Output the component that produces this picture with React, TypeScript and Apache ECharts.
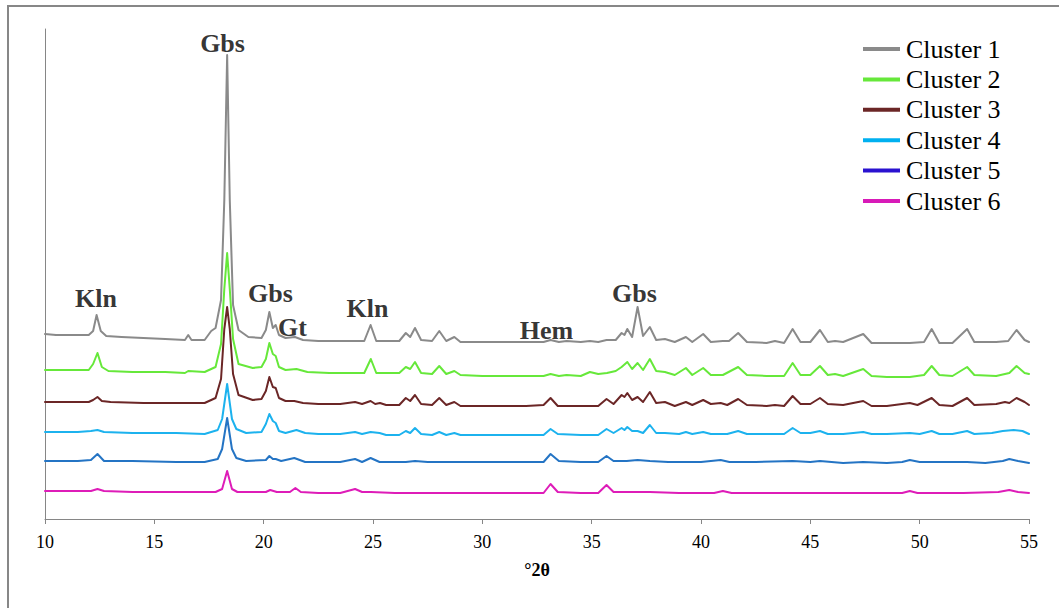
import React, { useEffect, useRef } from "react";
import * as echarts from "echarts";

// XRD patterns (x = °2θ, y = offset intensity, arbitrary units)
const CLUSTER_1: [number, number][] = [
  [10.0, 185], [10.5, 184], [11.0, 184], [11.5, 184], [12.0, 184], [12.2, 188], [12.36, 204], [12.55, 188], [12.8, 183],
  [13.5, 182], [14.5, 181], [15.5, 180], [16.4, 179], [16.55, 184], [16.7, 179], [17.3, 179], [17.6, 188], [17.8, 191],
  [18.05, 219], [18.2, 319], [18.33, 464], [18.45, 319], [18.6, 214], [18.85, 189], [19.3, 182], [19.9, 181], [20.1, 189],
  [20.26, 207], [20.42, 191], [20.55, 194], [20.7, 184], [21.0, 181], [21.43, 182], [21.8, 179], [22.5, 178], [23.5, 178],
  [24.6, 178], [24.89, 194], [25.15, 178], [25.5, 178], [26.2, 178], [26.5, 186], [26.7, 182], [26.92, 191], [27.2, 179],
  [27.7, 178], [28.03, 188], [28.35, 178], [28.72, 182], [29.0, 177], [30.0, 177], [31.0, 177], [32.0, 177], [32.8, 177],
  [33.12, 179], [33.5, 177], [33.85, 178], [34.5, 177], [34.92, 178], [35.3, 177], [35.68, 179], [36.1, 179], [36.37, 186],
  [36.5, 184], [36.63, 190], [36.85, 182], [37.1, 212], [37.35, 183], [37.66, 192], [37.95, 179], [38.35, 180], [38.8, 177],
  [39.31, 182], [39.6, 177], [40.1, 185], [40.45, 177], [41.0, 178], [41.28, 178], [41.7, 186], [42.1, 177], [43.0, 176],
  [43.38, 178], [43.8, 176], [44.19, 190], [44.55, 177], [45.0, 177], [45.44, 189], [45.8, 177], [46.13, 178], [46.5, 177],
  [47.42, 185], [47.8, 176], [48.5, 176], [49.55, 176], [50.2, 177], [50.55, 190], [50.9, 176], [51.5, 176], [52.17, 190],
  [52.5, 177], [53.5, 177], [54.05, 178], [54.43, 189], [54.8, 179], [55.0, 177],
];

const CLUSTER_2: [number, number][] = [
  [10.0, 149], [11.0, 149], [12.0, 149], [12.2, 155], [12.4, 166], [12.6, 152], [12.9, 148], [14.0, 147], [15.5, 147],
  [16.4, 146], [16.55, 148], [17.3, 147], [17.8, 152], [18.05, 175], [18.2, 230], [18.33, 266], [18.45, 230], [18.6, 180],
  [18.85, 155], [19.5, 151], [19.9, 152], [20.1, 160], [20.26, 176], [20.42, 165], [20.55, 163], [20.7, 152], [21.0, 149],
  [21.5, 150], [22.0, 147], [23.0, 146], [24.6, 146], [24.9, 160], [25.15, 146], [26.2, 146], [26.5, 152], [26.7, 150],
  [26.92, 157], [27.2, 146], [27.7, 145], [28.03, 153], [28.35, 145], [28.72, 148], [29.0, 144], [30.0, 143], [31.0, 143],
  [32.0, 143], [32.8, 143], [33.12, 145], [33.5, 143], [33.85, 144], [34.5, 143], [34.92, 147], [35.3, 145], [35.7, 146],
  [36.1, 148], [36.37, 152], [36.63, 157], [36.85, 150], [37.1, 156], [37.35, 149], [37.66, 160], [37.95, 148], [38.35, 147],
  [38.8, 144], [39.31, 151], [39.6, 144], [40.1, 151], [40.45, 144], [41.0, 144], [41.7, 152], [42.1, 144], [43.0, 143],
  [43.8, 143], [44.19, 156], [44.55, 144], [45.0, 144], [45.44, 153], [45.8, 144], [46.13, 145], [46.5, 143], [47.42, 150],
  [47.8, 143], [48.5, 142], [49.55, 142], [50.2, 144], [50.55, 153], [50.9, 144], [51.5, 143], [52.17, 152], [52.5, 144],
  [53.5, 143], [54.1, 146], [54.43, 153], [54.8, 146], [55.0, 145],
];

const CLUSTER_3: [number, number][] = [
  [10.0, 117], [11.0, 117], [12.0, 117], [12.2, 119], [12.4, 122], [12.6, 118], [13.0, 117], [14.5, 116], [16.0, 116],
  [17.3, 116], [17.8, 121], [18.05, 140], [18.2, 190], [18.33, 212], [18.45, 190], [18.6, 145], [18.85, 124], [19.5, 119],
  [19.9, 120], [20.1, 128], [20.26, 142], [20.42, 132], [20.55, 131], [20.7, 121], [21.0, 118], [21.4, 118], [21.8, 116],
  [22.5, 115], [23.5, 115], [24.18, 117], [24.5, 115], [24.89, 118], [25.1, 115], [25.32, 116], [25.6, 114], [26.2, 114],
  [26.5, 121], [26.7, 118], [26.92, 124], [27.2, 115], [27.7, 114], [28.03, 121], [28.35, 114], [28.72, 117], [29.0, 113],
  [30.0, 113], [31.0, 113], [32.0, 113], [32.8, 114], [33.12, 121], [33.45, 113], [34.0, 113], [34.9, 113], [35.3, 113],
  [35.68, 120], [36.0, 115], [36.37, 124], [36.5, 122], [36.63, 126], [36.85, 119], [37.1, 122], [37.35, 117], [37.66, 127],
  [37.95, 116], [38.35, 117], [38.8, 113], [39.31, 117], [39.6, 114], [40.1, 119], [40.45, 115], [40.9, 116], [41.2, 114],
  [41.7, 120], [42.1, 114], [43.0, 113], [43.38, 114], [43.8, 113], [44.19, 123], [44.55, 115], [45.0, 115], [45.44, 121],
  [45.8, 115], [46.5, 114], [47.42, 118], [47.8, 113], [48.5, 113], [49.55, 116], [49.9, 114], [50.55, 121], [50.9, 114],
  [51.5, 113], [52.17, 121], [52.5, 114], [53.5, 115], [53.9, 117], [54.1, 116], [54.43, 121], [54.8, 117], [55.0, 114],
];

const CLUSTER_4: [number, number][] = [
  [10.0, 87], [11.5, 87], [12.1, 88], [12.4, 89], [12.7, 87], [14.0, 86], [16.0, 86], [17.3, 85], [17.9, 89], [18.1, 100],
  [18.33, 135], [18.55, 100], [18.75, 90], [19.2, 86], [19.9, 87], [20.1, 95], [20.26, 105], [20.42, 98], [20.55, 96],
  [20.7, 88], [21.0, 86], [21.5, 89], [21.9, 86], [22.5, 85], [23.5, 85], [24.18, 87], [24.5, 85], [24.89, 87], [25.3, 86],
  [25.6, 84], [26.2, 84], [26.5, 88], [26.7, 86], [26.92, 91], [27.2, 85], [27.7, 84], [28.03, 87], [28.35, 84], [28.72, 86],
  [29.0, 84], [30.0, 84], [31.0, 84], [32.0, 84], [32.8, 84], [33.12, 90], [33.45, 85], [34.5, 84], [35.3, 84], [35.68, 90],
  [36.0, 86], [36.37, 91], [36.5, 89], [36.63, 92], [36.85, 88], [37.1, 88], [37.35, 86], [37.66, 94], [37.95, 86],
  [38.35, 86], [39.0, 85], [39.31, 87], [39.6, 85], [40.1, 87], [40.45, 85], [41.2, 85], [41.7, 88], [42.1, 85], [43.0, 85],
  [43.8, 85], [44.19, 91], [44.55, 86], [45.0, 86], [45.44, 88], [45.8, 85], [46.5, 85], [47.42, 87], [47.8, 85], [48.5, 85],
  [49.55, 86], [50.0, 85], [50.55, 88], [50.9, 85], [51.5, 85], [52.17, 88], [52.5, 85], [53.3, 86], [53.8, 88], [54.3, 89],
  [54.7, 88], [55.0, 85],
];

const CLUSTER_5: [number, number][] = [
  [10.0, 58], [11.5, 58], [12.1, 59], [12.4, 65], [12.7, 58], [14.0, 58], [16.0, 57], [17.3, 57], [17.9, 60], [18.1, 70],
  [18.33, 101], [18.55, 70], [18.75, 61], [19.2, 58], [20.1, 59], [20.26, 63], [20.42, 60], [20.55, 60], [20.8, 58],
  [21.4, 61], [21.9, 57], [22.5, 57], [23.5, 57], [24.18, 60], [24.5, 57], [24.89, 61], [25.3, 57], [26.5, 57], [26.92, 58],
  [27.5, 57], [28.03, 57], [29.0, 57], [30.0, 57], [31.0, 57], [32.0, 57], [32.8, 57], [33.12, 65], [33.5, 58], [34.5, 57],
  [35.3, 57], [35.68, 63], [36.0, 58], [36.6, 58], [37.1, 59], [37.66, 58], [38.5, 57], [39.31, 57], [40.0, 57], [40.9, 59],
  [41.3, 57], [41.7, 57], [42.5, 57], [44.19, 58], [45.0, 57], [45.44, 58], [46.5, 56], [47.42, 57], [48.5, 56], [49.2, 57],
  [49.55, 59], [50.0, 57], [50.55, 57], [52.17, 57], [53.0, 56], [53.8, 58], [54.1, 60], [54.5, 58], [55.0, 56],
];

const CLUSTER_6: [number, number][] = [
  [10.0, 28], [11.5, 28], [12.1, 28], [12.4, 30], [12.7, 28], [14.0, 27], [16.0, 27], [17.8, 27], [18.1, 30], [18.33, 48],
  [18.55, 30], [18.8, 27], [20.1, 27], [20.3, 29], [20.6, 27], [21.2, 27], [21.45, 31], [21.7, 27], [22.5, 26], [23.5, 26],
  [24.18, 30], [24.5, 27], [24.9, 27], [26.0, 26], [28.0, 26], [30.0, 26], [32.0, 26], [32.8, 26], [33.12, 35], [33.45, 27],
  [34.5, 26], [35.3, 26], [35.68, 34], [36.0, 27], [37.1, 27], [37.66, 27], [39.0, 26], [40.6, 26], [41.0, 28], [41.4, 26],
  [43.0, 26], [45.0, 26], [47.0, 26], [49.2, 26], [49.55, 28], [49.9, 26], [52.0, 26], [53.6, 27], [54.1, 29], [54.5, 27],
  [55.0, 26],
];

const SERIES_NAMES = ["Cluster 1", "Cluster 2", "Cluster 3", "Cluster 4", "Cluster 5", "Cluster 6"];
const SERIES_DATA = [CLUSTER_1, CLUSTER_2, CLUSTER_3, CLUSTER_4, CLUSTER_5, CLUSTER_6];
const LINE_COLORS = ["#8a8a8a", "#66e83a", "#6b2626", "#1cb2ee", "#2474c4", "#de1cb8"];
const LEGEND_COLORS = ["#8a8a8a", "#66e83a", "#6b2626", "#00b0f0", "#2a12d0", "#d81ab8"];

// Phase annotations
const ANNOT_LABELS = ["Kln", "Gbs", "Gbs", "Gt", "Kln", "Hem", "Gbs"];
const ANNOT_X = [12.33, 18.12, 20.31, 21.32, 24.75, 32.93, 36.96];
const ANNOT_Y = [221, 476, 226, 192, 211, 189, 226];

const X_TICKS_MIN = 10;
const X_TICKS_MAX = 55;
const X_INTERVAL = 5;

export default function App() {
  const ref = useRef<HTMLDivElement>(null);

  useEffect(() => {
    document.body.style.margin = "0";
    const chart = echarts.init(ref.current!, null, { renderer: "svg" });
    const serif = "Liberation Serif";

    const lineSeries = SERIES_NAMES.map((name, i) => ({
      name,
      type: "line",
      data: SERIES_DATA[i],
      showSymbol: false,
      symbol: "none",
      color: LINE_COLORS[i],
      lineStyle: { width: 2, color: LINE_COLORS[i], join: "round", cap: "round" },
      z: 10 - i,
    }));

    const annotSeries = {
      name: "annotations",
      type: "scatter",
      symbolSize: 0,
      silent: true,
      data: ANNOT_LABELS.map((t, i) => ({ name: t, value: [ANNOT_X[i], ANNOT_Y[i]] })),
      label: {
        show: true,
        position: "inside",
        formatter: (p: any) => p.name,
        fontFamily: serif,
        fontWeight: "bold",
        fontSize: 26,
        color: "#000",
      },
      z: 20,
    };

    chart.setOption({
      animation: false,
      backgroundColor: "#fff",
      textStyle: { fontFamily: serif },
      grid: { left: 45, right: 30, top: 29, bottom: 89, containLabel: false },
      legend: {
        orient: "vertical",
        left: 858,
        top: 31,
        icon: "rect",
        itemWidth: 37,
        itemHeight: 4,
        itemGap: 4.4,
        textStyle: { fontFamily: serif, fontSize: 26, lineHeight: 26, color: "#000", padding: [0, 0, 0, 1] },
        data: SERIES_NAMES.map((n, i) => ({ name: n, itemStyle: { color: LEGEND_COLORS[i] } })),
      },
      xAxis: {
        type: "value",
        min: X_TICKS_MIN,
        max: X_TICKS_MAX,
        interval: X_INTERVAL,
        name: "°2θ",
        nameLocation: "middle",
        nameGap: 42,
        nameTextStyle: { fontFamily: serif, fontWeight: "bold", fontSize: 18, color: "#000" },
        axisLine: { show: true, lineStyle: { color: "#868686", width: 1 } },
        axisTick: { show: true, length: 5, lineStyle: { color: "#868686" } },
        axisLabel: { fontFamily: serif, fontSize: 18, color: "#000", margin: 14 },
        splitLine: { show: false },
      },
      yAxis: {
        type: "value",
        min: 0,
        max: 490,
        axisLine: { show: true, lineStyle: { color: "#868686", width: 1 } },
        axisTick: { show: false },
        axisLabel: { show: false },
        splitLine: { show: false },
      },
      graphic: [
        {
          type: "rect",
          shape: { x: 8, y: 6, width: 1200, height: 800 },
          style: { fill: "none", stroke: "#878787", lineWidth: 2 },
          silent: true,
        },
      ],
      series: [...lineSeries, annotSeries],
    });

    return () => chart.dispose();
  }, []);

  return <div ref={ref} style={{ width: 1059, height: 608 }} />;
}
